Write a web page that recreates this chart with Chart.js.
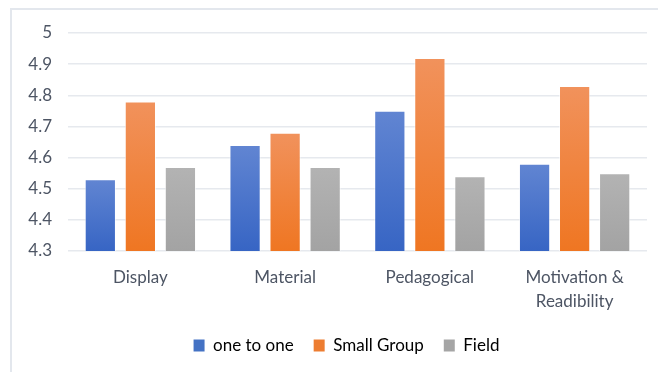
<!DOCTYPE html>
<html lang="en">
<head>
    <meta charset="UTF-8">
    <title>Evaluation Scores by Trial Stage</title>
    <script src="https://cdn.jsdelivr.net/npm/chart.js"></script>
    <style>
        html, body {
            margin: 0;
            padding: 0;
            background: #ffffff;
            overflow: hidden;
        }
        .frame {
            position: absolute;
            left: 10px;
            top: 8px;
            width: 700px;
            height: 400px;
            border: 2px solid #e3e7ed;
        }
        .wrap {
            position: absolute;
            left: 0;
            top: 0;
            width: 658px;
            height: 372px;
        }
    </style>
</head>
<body>
    <div class="frame"></div>
    <div class="wrap"><canvas id="chart" width="658" height="372"></canvas></div>

    <script>
        const categories = ["Display", "Material", "Pedagogical", ["Motivation &", "Readibility"]];
        const oneToOne = [4.53, 4.64, 4.75, 4.58];
        const smallGroup = [4.78, 4.68, 4.92, 4.83];
        const field = [4.57, 4.57, 4.54, 4.55];
        const yTicks = { min: 4.3, max: 5, step: 0.1 };

        // vertical gradient for each bar, lighter at the top
        function barFill(top, bottom, flat) {
            return function (ctx) {
                const chart = ctx.chart;
                const y = chart.scales.y;
                if (!y || ctx.raw === undefined) return flat;
                const yTop = y.getPixelForValue(ctx.raw);
                const g = chart.ctx.createLinearGradient(0, yTop, 0, y.bottom);
                g.addColorStop(0, top);
                g.addColorStop(1, bottom);
                return g;
            };
        }

        // the original legend sits a little right of the canvas centre
        const shiftLegend = {
            id: "shiftLegend",
            afterLayout(chart) {
                chart.legend.left += 23;
                chart.legend.right += 23;
            },
        };

        const font = "Lato, 'Open Sans', sans-serif";
        const textColor = "#4d5564";

        new Chart(document.getElementById("chart"), {
            type: "bar",
            data: {
                labels: categories,
                datasets: [
                    {
                        label: "one to one",
                        data: oneToOne,
                        backgroundColor: barFill("#6185d2", "#3765c4", "#4472c4"),
                        borderColor: "rgba(255,255,255,0.6)",
                        borderWidth: 1,
                    },
                    {
                        label: "Small Group",
                        data: smallGroup,
                        backgroundColor: barFill("#f1925c", "#ef7622", "#ed7d31"),
                        borderColor: "rgba(255,255,255,0.6)",
                        borderWidth: 1,
                    },
                    {
                        label: "Field",
                        data: field,
                        backgroundColor: barFill("#b3b3b3", "#a3a3a3", "#a5a5a5"),
                        borderColor: "rgba(255,255,255,0.6)",
                        borderWidth: 1,
                    },
                ],
            },
            plugins: [shiftLegend],
            options: {
                responsive: false,
                animation: false,
                layout: { padding: { left: 0, right: 11, top: 33, bottom: 8 } },
                datasets: {
                    bar: { categoryPercentage: 0.83, barPercentage: 0.78 },
                },
                plugins: {
                    tooltip: { enabled: false },
                    legend: {
                        position: "bottom",
                        labels: {
                            boxWidth: 11,
                            boxHeight: 12,
                            padding: 20,
                            color: textColor,
                            font: { family: font, size: 17 },
                            generateLabels(chart) {
                                const flat = ["#4472c4", "#ed7d31", "#a5a5a5"];
                                return chart.data.datasets.map((d, i) => ({
                                    text: d.label,
                                    fillStyle: flat[i],
                                    strokeStyle: flat[i],
                                    lineWidth: 0,
                                    datasetIndex: i,
                                }));
                            },
                        },
                    },
                },
                scales: {
                    x: {
                        grid: { display: false },
                        border: { display: false },
                        ticks: {
                            color: textColor,
                            font: { family: font, size: 17, lineHeight: 1.45 },
                            padding: 6,
                            maxRotation: 0,
                        },
                        afterFit(scale) { scale.height = 66; },
                    },
                    y: {
                        min: yTicks.min,
                        max: yTicks.max,
                        grid: { color: "#e6e9ee", lineWidth: 1.5, drawTicks: false },
                        border: { display: false },
                        ticks: {
                            stepSize: yTicks.step,
                            color: textColor,
                            padding: 16,
                            font: { family: font, size: 17 },
                            callback: (v) => Number(v.toFixed(1)).toString(),
                        },
                        afterFit(scale) { scale.width = 68; },
                    },
                },
            },
        });
    </script>
</body>
</html>
